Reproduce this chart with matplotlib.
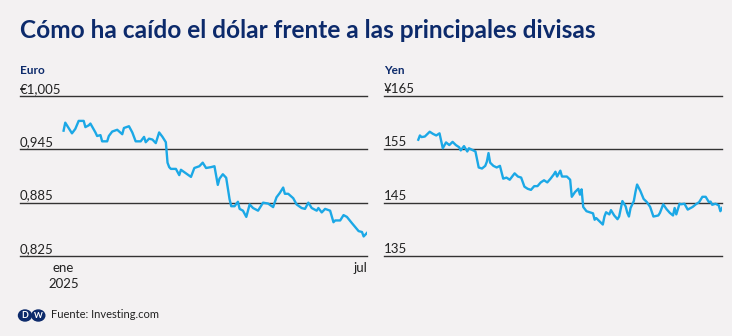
import numpy as np
import pandas as pd
import matplotlib.pyplot as plt
from matplotlib.patches import Ellipse
import matplotlib.transforms as mtransforms

# Euro per dollar, days counted from 1 Jan 2025
euro_days = [0, 1, 3, 5, 7, 9, 12, 13, 15, 16, 19, 20, 22, 23, 26, 27, 29, 32, 35, 36,
             39, 41, 43, 46, 48, 49, 51, 53, 55, 57, 59, 61, 62, 63, 64, 67, 69, 70, 73, 76,
             78, 81, 83, 85, 88, 90, 92, 93, 95, 97, 99, 100, 102, 104, 105, 107, 109, 111, 113, 116,
             119, 122, 125, 127, 129, 131, 132, 134, 137, 139, 142, 144, 146, 148, 151, 152, 154, 156, 159, 161,
             162, 165, 167, 169, 172, 176, 178, 179, 181]
euro_vals = [0.966, 0.975, 0.969, 0.963, 0.968, 0.977, 0.977, 0.970, 0.972, 0.974,
             0.964, 0.960, 0.961, 0.954, 0.954, 0.960, 0.965, 0.967, 0.962, 0.969,
             0.971, 0.964, 0.954, 0.954, 0.959, 0.953, 0.957, 0.956, 0.952, 0.964,
             0.959, 0.953, 0.930, 0.925, 0.923, 0.923, 0.916, 0.922, 0.918, 0.914,
             0.924, 0.926, 0.930, 0.924, 0.925, 0.926, 0.905, 0.912, 0.917, 0.913,
             0.889, 0.881, 0.881, 0.886, 0.878, 0.876, 0.869, 0.883, 0.879, 0.876,
             0.885, 0.884, 0.880, 0.891, 0.896, 0.902, 0.895, 0.895, 0.890, 0.883,
             0.879, 0.878, 0.885, 0.879, 0.876, 0.879, 0.874, 0.878, 0.876, 0.863,
             0.865, 0.865, 0.871, 0.869, 0.862, 0.853, 0.852, 0.847, 0.851]

# Yen per dollar
yen_days = [-5, -4, -3, -1, 0, 2, 4, 6, 8, 9, 10, 12, 14, 16, 18, 20, 21, 23, 25, 26,
            28, 30, 32, 34, 36, 37, 38, 39, 41, 43, 45, 47, 49, 51, 54, 56, 58, 60, 62, 64,
            66, 68, 70, 72, 74, 76, 78, 79, 80, 82, 83, 86, 88, 89, 91, 93, 94, 95, 96, 98,
            100, 102, 103, 104, 106, 108, 109, 110, 112, 113, 115, 117, 118, 120, 122, 123, 124, 125, 127, 128,
            129, 131, 133, 135, 137, 139, 142, 143, 145, 147, 149, 151, 152, 153, 155, 156, 158, 160, 163, 165,
            167, 169, 171, 173, 174, 175, 177, 179, 180, 181]
yen_vals = [156.8, 157.6, 157.3, 157.4, 157.7, 158.3, 157.9, 157.6, 158.0, 156.6,
            155.2, 156.3, 155.8, 156.4, 155.8, 155.4, 154.8, 155.6, 154.6, 155.2,
            154.9, 154.6, 151.6, 151.4, 151.9, 152.7, 154.3, 152.5, 151.9, 151.6,
            151.9, 149.5, 149.7, 149.3, 150.5, 149.9, 149.7, 148.0, 147.6, 147.4,
            148.1, 148.1, 148.8, 149.2, 148.8, 149.5, 150.3, 150.8, 149.9, 151.0,
            149.9, 149.9, 149.3, 146.1, 147.0, 147.6, 146.5, 147.5, 144.2, 143.4,
            143.2, 143.0, 141.8, 142.1, 141.5, 140.9, 142.4, 143.2, 142.8, 143.6,
            142.6, 141.9, 142.4, 145.3, 144.3, 143.1, 142.4, 144.0, 145.3, 147.0,
            148.4, 147.2, 145.7, 145.1, 144.2, 142.4, 142.6, 143.1, 144.7, 143.8,
            143.1, 142.6, 144.0, 142.8, 144.8, 144.7, 144.8, 143.7, 144.2, 144.7,
            145.1, 146.1, 146.1, 145.1, 145.2, 144.6, 144.8, 144.5, 143.4, 144.0]

euro_ticks = [0.825, 0.885, 0.945, 1.005]
euro_labels = ['0,825', '0,885', '0,945', '€1,005']
yen_ticks = [135, 145, 155, 165]
yen_labels = ['135', '145', '155', '¥165']

x_tick_dates = ['2025-01-01', '2025-07-01']
x_tick_labels = ['ene\n2025', 'jul']

title = 'Cómo ha caído el dólar frente a las principales divisas'
source = 'Fuente: Investing.com'

BG = '#f3f1f2'
NAVY = '#0c2a6b'
LINE = '#1ba8e6'
GRID = '#333333'
TXT = '#222222'

plt.rcParams['font.family'] = ['Lato', 'DejaVu Sans']

start = pd.Timestamp('2025-01-01')
xmin = pd.Timestamp('2024-12-06')
xmax = pd.Timestamp('2025-07-01')

fig = plt.figure(figsize=(7.32, 3.36), dpi=100, facecolor=BG)

fig.text(20 / 732, 1 - 31 / 336, title, fontsize=17.6, fontweight='bold',
         color=NAVY, va='center', ha='left')


def panel(rect, name, days, vals, ticks, labels, show_x):
    ax = fig.add_axes(rect)
    ax.set_facecolor(BG)
    dates = start + pd.to_timedelta(days, unit='D')
    ax.plot(dates, vals, color=LINE, lw=1.7, solid_joinstyle='round', zorder=3)
    ax.set_xlim(xmin, xmax)
    ax.set_ylim(ticks[0], ticks[-1])
    for s in ax.spines.values():
        s.set_visible(False)
    ax.set_yticks([])
    # tick labels sit just above their gridline
    trans = mtransforms.blended_transform_factory(ax.transAxes, ax.transData)
    trans = trans + mtransforms.ScaledTranslation(0, 0.8 / 72, fig.dpi_scale_trans)
    for t, lab in zip(ticks, labels):
        ax.axhline(t, color=GRID, lw=1.0, zorder=2, clip_on=False)
        ax.text(0, t, lab, transform=trans, fontsize=9.5, color=TXT,
                ha='left', va='bottom')
    ax.text(0, 1.0 + 20 / 160, name, transform=ax.transAxes, fontsize=8.5,
            fontweight='bold', color=NAVY, ha='left', va='bottom')
    if show_x:
        ax.set_xticks(pd.to_datetime(x_tick_dates))
        ax.set_xticklabels(x_tick_labels, fontsize=9.5, color=TXT, linespacing=1.4)
        ax.tick_params(axis='x', length=0, pad=4)
        ax.get_xticklabels()[-1].set_horizontalalignment('right')
    else:
        ax.set_xticks([])
    return ax


ax1 = panel([20 / 732, 1 - 256 / 336, 347 / 732, 160 / 336], 'Euro',
            euro_days, euro_vals, euro_ticks, euro_labels, True)
ax2 = panel([384 / 732, 1 - 256 / 336, 338 / 732, 160 / 336], 'Yen',
            yen_days, yen_vals, yen_ticks, yen_labels, False)

# DW logo, drawn in inches so the shapes keep their proportions
for cx, letter, fs in ((25.0, 'D', 6.5), (38.3, 'W', 6)):
    fig.patches.append(Ellipse((cx / 100, 20.5 / 100), 0.13, 0.11,
                               transform=fig.dpi_scale_trans, color=NAVY))
    fig.text(cx / 732, 1 - 316 / 336, letter, fontsize=fs, fontweight='bold',
             color='white', ha='center', va='center')
fig.text(51 / 732, 1 - 315 / 336, source, fontsize=8, color=TXT, ha='left', va='center')

fig.savefig('out.png', dpi=100, facecolor=BG)
